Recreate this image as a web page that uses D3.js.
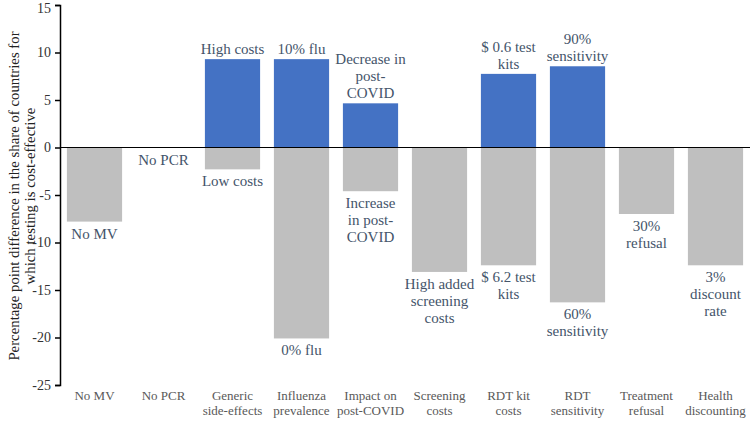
<!DOCTYPE html>
<html><head><meta charset="utf-8">
<script src="https://cdn.jsdelivr.net/npm/d3@7"></script>
<style>body{margin:0;background:#fff}svg{display:block}svg text{font-family:"Liberation Serif","Tinos","Times New Roman","DejaVu Serif",serif}</style>
</head><body><svg id="c" width="750" height="424"></svg>
<script>
const categories = ["No MV","No PCR","Generic|side-effects","Influenza|prevalence","Impact on|post-COVID","Screening|costs","RDT kit|costs","RDT|sensitivity","Treatment|refusal","Health|discounting"];
const highValues = [0, 0, 9.3, 9.3, 4.65, 0, 7.75, 8.55, 0, 0];
const lowValues = [-7.8, 0, -2.3, -20.1, -4.6, -13.1, -12.4, -16.3, -7.0, -12.4];
const highLabels = ["", "", "High costs", "10% flu", "Decrease in|post-|COVID", "", "$ 0.6 test|kits", "90%|sensitivity", "", ""];
const lowLabels = ["No MV", "No PCR", "Low costs", "0% flu", "Increase|in post-|COVID", "High added|screening|costs", "$ 6.2 test|kits", "60%|sensitivity", "30%|refusal", "3%|discount|rate"];
const yTicks = [15, 10, 5, 0, -5, -10, -15, -20, -25];

const svg = d3.select("#c");
const mLeft = 60, mRight = 750, mTop = 5, mBottom = 385;
const x = d3.scaleBand().domain(d3.range(categories.length)).range([mLeft, mRight]).paddingInner(0.2).paddingOuter(0.1);
const y = d3.scaleLinear().domain([-25, 15]).range([mBottom, mTop]);

// bars
svg.append("g").selectAll("rect").data(highValues).join("rect")
  .attr("x", (d,i)=>x(i)).attr("width", x.bandwidth())
  .attr("y", d=>y(Math.max(0,d))).attr("height", d=>Math.abs(y(d)-y(0)))
  .attr("fill", "#4472C4");
svg.append("g").selectAll("rect").data(lowValues).join("rect")
  .attr("x", (d,i)=>x(i)).attr("width", x.bandwidth())
  .attr("y", y(0)).attr("height", d=>Math.abs(y(d)-y(0)))
  .attr("fill", "#BFBFBF");

// zero line
svg.append("line").attr("x1", mLeft).attr("x2", mRight).attr("y1", y(0)).attr("y2", y(0))
  .attr("stroke", "#000").attr("stroke-width", 1);

// y axis
const ax = svg.append("g").attr("transform", `translate(${mLeft},0)`)
  .call(d3.axisLeft(y).tickValues(yTicks).tickSize(5).tickSizeOuter(5).tickFormat(d=>String(d)));
ax.attr("font-family", null);
ax.select(".domain").attr("stroke", "#000").attr("stroke-width", 1.5);
ax.selectAll(".tick line").attr("stroke", "#000").attr("stroke-width", 1.5);
ax.selectAll(".tick text").style("font-size", "14px").attr("fill", "#333").attr("x", -9);
ax.selectAll(".tick text").filter(d=>d===15).attr("dy", "0.55em");

// bar labels
const lh = 17;
function multi(g, txt, cx, yBase, dir) {
  const lines = txt.split("|");
  const t = g.append("text").attr("text-anchor","middle")
    .style("font-size","15px").attr("fill","#44546A");
  lines.forEach((l,k)=>{
    let yy = dir>0 ? yBase + k*lh : yBase - (lines.length-1-k)*lh;
    t.append("tspan").attr("x",cx).attr("y",yy).text(l);
  });
}
const lg = svg.append("g");
highLabels.forEach((t,i)=>{ if(t) multi(lg, t, x(i)+x.bandwidth()/2, y(highValues[i]) - 5, -1); });
lowLabels.forEach((t,i)=>{ if(t) multi(lg, t, x(i)+x.bandwidth()/2, y(lowValues[i]) + 17, 1); });

// category labels
const cg = svg.append("g");
categories.forEach((c,i)=>{
  const t = cg.append("text").attr("text-anchor","middle")
    .style("font-size","13px").attr("fill","#595959");
  c.split("|").forEach((l,k)=>t.append("tspan").attr("x", x(i)+x.bandwidth()/2).attr("y", 400 + k*15).text(l));
});

// y title
const yt = svg.append("text").attr("transform","translate(0,196) rotate(-90)")
  .attr("text-anchor","middle").style("font-size","14.8px").attr("fill","#222");
yt.append("tspan").attr("x",0).attr("y",19).text("Percentage point difference in the share of countries for");
yt.append("tspan").attr("x",0).attr("y",35).text("which testing is cost-effective");
</script></body></html>
